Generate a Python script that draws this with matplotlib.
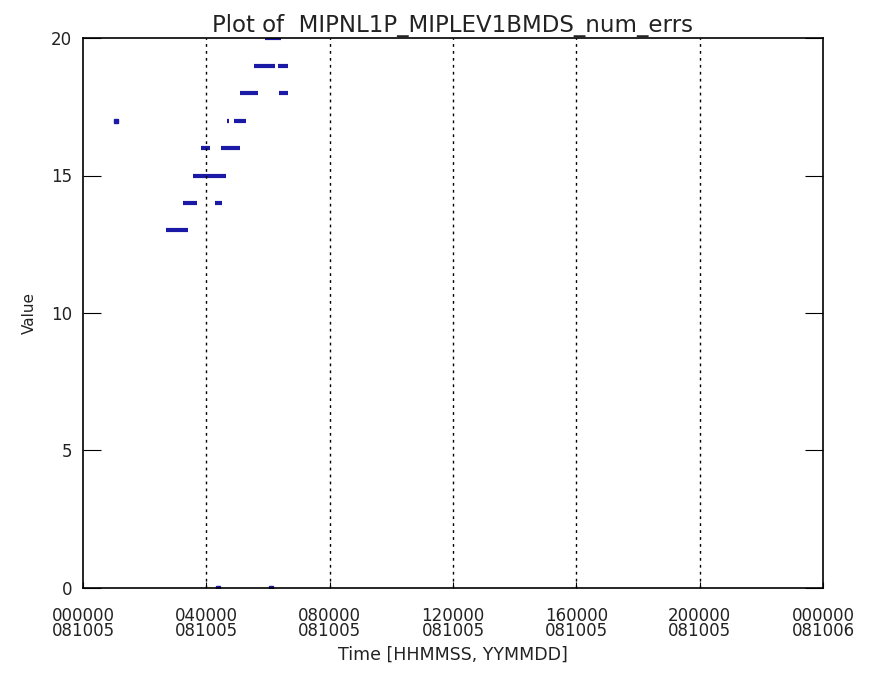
import numpy as np
import matplotlib
matplotlib.use('Agg')
import matplotlib.pyplot as plt

plt.rcParams['font.family'] = ['DejaVu Sans']

# runs of points: start time [s], end time [s], value
seg_start = [9690, 11680, 15410, 12840, 13780, 16110, 16810, 17630, 18330, 22880, 19970, 22770, 21250]
seg_end   = [12260, 13310, 16230, 16700, 14830, 18330, 17050, 19030, 20430, 23940, 22420, 23940, 23120]
seg_value = [13, 14, 14, 15, 16, 16, 17, 17, 18, 18, 19, 19, 20]

# isolated points
pt_time  = [3850, 15760, 21950]
pt_value = [17, 0, 0]

hours = [0, 4, 8, 12, 16, 20, 24]
tick_labels = ['000000\n081005', '040000\n081005', '080000\n081005', '120000\n081005',
               '160000\n081005', '200000\n081005', '000000\n081006']

fig = plt.figure(figsize=(8.73, 6.75), dpi=100)
ax = fig.add_axes([0.0951, 0.1289, 0.8476, 0.8148])

blue = '#1a1aa6'
ax.hlines(seg_value, seg_start, seg_end, colors=blue, linewidth=3)
ax.plot(pt_time, pt_value, 's', color=blue, markersize=2.5, linestyle='none')

for h in hours[1:-1]:
    ax.axvline(h * 3600, color='black', linestyle=(0, (2, 3)), linewidth=1)

ax.set_xlim(0, 86400)
ax.set_ylim(0, 20)
ax.set_xticks([h * 3600 for h in hours])
ax.set_xticklabels(tick_labels, fontsize=12, linespacing=0.78, color='#222222')
ax.set_yticks([0, 5, 10, 15, 20])
ax.set_yticklabels(['0', '5', '10', '15', '20'], color='#222222')
ax.tick_params(axis='y', direction='in', length=13, right=True, labelsize=12, pad=8)
ax.tick_params(axis='x', direction='in', length=4, labelsize=12, pad=14)
for sp in ax.spines.values():
    sp.set_linewidth(1.2)

ax.set_title('Plot of  MIPNL1P_MIPLEV1BMDS_num_errs', fontsize=16.5, pad=4, color='#222222')
ax.set_xlabel('Time [HHMMSS, YYMMDD]', fontsize=12.5, labelpad=4, color='#222222')
ax.set_ylabel('Value', fontsize=11, labelpad=10, color='#222222')

fig.savefig('out.png', dpi=100)
